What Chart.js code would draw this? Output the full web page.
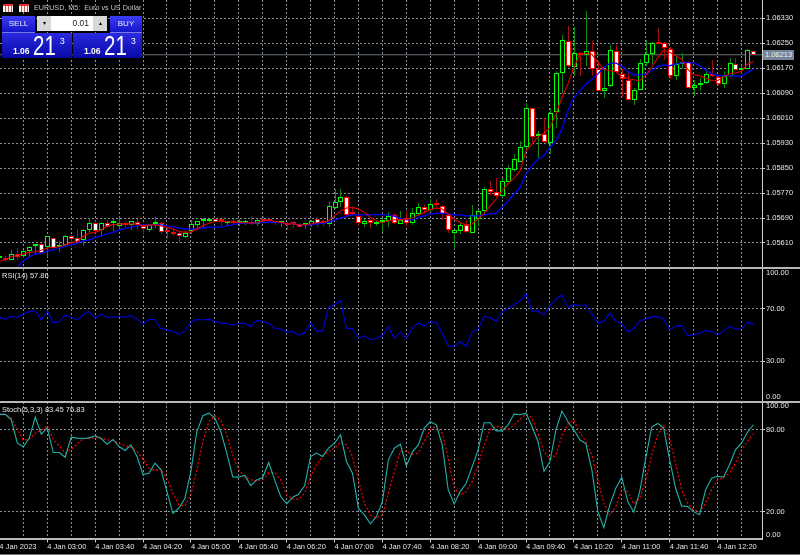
<!DOCTYPE html>
<html lang="en">
<head>
    <meta charset="UTF-8">
    <title>EURUSD, M5</title>
    <script src="https://cdn.jsdelivr.net/npm/chart.js"></script>
    <style>
        html, body { margin: 0; padding: 0; width: 800px; height: 555px; overflow: hidden; background: #000; font-family: "Liberation Sans", sans-serif; }
        canvas { position: absolute; left: 0; }
        .rule { position: absolute; left: 0; background: #b8b8b8; }
        .label { position: absolute; color: #e4e4e4; font-size: 7.5px; line-height: 9px; white-space: nowrap; }
        .btn { position: absolute; color: #e8e8ff; background: linear-gradient(#3c3cf0, #1414c8); font-size: 8px; text-align: center; line-height: 15px; border-bottom: 1px solid #7878e0; box-sizing: border-box; }
        .quote { position: absolute; top: 33px; height: 25px; color: #fff; background: linear-gradient(#2a2ae0, #0808a8); }
        .quote b { position: absolute; left: 11px; top: 14px; font-size: 8.5px; line-height: 9px; }
        .quote span { position: absolute; left: 31px; top: 0; font-size: 27px; line-height: 26px; transform: scaleX(0.76); transform-origin: left; }
        .quote i { position: absolute; left: 58px; top: 4px; font-size: 8.5px; line-height: 9px; font-style: normal; }
        .spin { position: absolute; top: 16px; height: 15px; width: 14px; background: #d8d8d8; color: #000; font-size: 6px; line-height: 15px; text-align: center; }
        .icon { position: absolute; top: 4px; width: 10px; height: 6px; background: repeating-linear-gradient(90deg, #fff 0 2px, #e05050 2px 3px); border-top: 2px solid #e03030; }
    </style>
</head>
<body>

    <canvas id="priceChart" width="800" height="267" style="top: 0"></canvas>
    <canvas id="rsiChart" width="800" height="132" style="top: 269px"></canvas>
    <canvas id="stochChart" width="800" height="153" style="top: 402px"></canvas>

    <div class="rule" style="top: 267px; width: 800px; height: 2px"></div>
    <div class="rule" style="top: 401px; width: 800px; height: 2px"></div>
    <div class="rule" style="top: 554px; width: 800px; height: 1px; background: #707070"></div>

    <!-- Trade panel and pane captions -->
    <div class="icon" style="left: 3px"></div>
    <div class="icon" style="left: 19px"></div>
    <div class="label" style="left: 34px; top: 3px; font-size: 7.2px; color: #c4c4c4">EURUSD, M5:&nbsp; Euro vs US Dollar</div>
    <div class="btn" style="left: 2px; top: 16px; width: 33px; height: 17px">SELL</div>
    <div class="spin" style="left: 37px">&#9662;</div>
    <div style="position: absolute; left: 51px; top: 16px; width: 42px; height: 15px; background: #fff; color: #222; font-size: 8.5px; line-height: 15px; text-align: right; padding-right: 4px; box-sizing: border-box">0.01</div>
    <div class="spin" style="left: 93px">&#9652;</div>
    <div class="btn" style="left: 110px; top: 16px; width: 32px; height: 17px">BUY</div>
    <div class="quote" style="left: 2px; width: 70px"><b>1.06</b><span>21</span><i>3</i></div>
    <div class="quote" style="left: 73px; width: 69px"><b>1.06</b><span>21</span><i>3</i></div>

    <div class="label" style="left: 2px; top: 271px">RSI(14) 57.86</div>
    <div class="label" style="left: 2px; top: 405px">Stoch(5,3,3) 83.45 76.83</div>
    <div class="label" style="left: 763px; top: 50px; width: 31px; height: 10px; line-height: 10px; text-align: center; background: #74849a; color: #f0f0f0">1.06213</div>

    <script>
        // OHLC of the M5 candles, left to right
        const opens = [1.05561,1.05561,1.05556,1.05575,1.05569,1.05583,1.05599,1.05607,1.05598,1.05626,
            1.05596,1.05604,1.05633,1.05625,1.05619,1.05651,1.05673,1.05652,1.05674,1.05673,
            1.05665,1.05675,1.05668,1.05676,1.05665,1.05652,1.05671,1.05673,1.05647,1.05645,
            1.05643,1.05628,1.05647,1.05668,1.05679,1.05679,1.05687,1.05681,1.05673,1.05679,
            1.05675,1.05674,1.05678,1.05671,1.05687,1.05688,1.05676,1.05674,1.05675,1.05673,
            1.05671,1.05668,1.05668,1.05687,1.05675,1.05671,1.05721,1.05741,1.05758,1.05705,
            1.05697,1.05671,1.05684,1.05672,1.05678,1.05681,1.05700,1.05671,1.05690,1.05673,
            1.05703,1.05726,1.05716,1.05738,1.05729,1.05700,1.05643,1.05649,1.05668,1.05642,
            1.05687,1.05711,1.05783,1.05772,1.05760,1.05807,1.05845,1.05871,1.05916,1.06043,
            1.05954,1.05959,1.05932,1.06031,1.06156,1.06258,1.06175,1.06219,1.06213,1.06224,
            1.06167,1.06098,1.06113,1.06226,1.06151,1.06133,1.06068,1.06101,1.06188,1.06215,
            1.06253,1.06251,1.06233,1.06146,1.06185,1.06191,1.06108,1.06115,1.06124,1.06151,
            1.06143,1.06119,1.06146,1.06184,1.06164,1.06169,1.06226];
        const highs = [1.05566,1.05567,1.05587,1.05594,1.05588,1.05601,1.05607,1.05609,1.05633,1.05628,
            1.05615,1.05636,1.05636,1.05655,1.05655,1.05690,1.05681,1.05678,1.05684,1.05690,
            1.05694,1.05681,1.05681,1.05687,1.05671,1.05671,1.05692,1.05676,1.05660,1.05658,
            1.05645,1.05646,1.05684,1.05681,1.05690,1.05687,1.05689,1.05684,1.05678,1.05686,
            1.05686,1.05684,1.05697,1.05688,1.05697,1.05691,1.05679,1.05677,1.05676,1.05679,
            1.05675,1.05673,1.05684,1.05689,1.05684,1.05740,1.05783,1.05782,1.05759,1.05722,
            1.05705,1.05687,1.05687,1.05681,1.05689,1.05708,1.05705,1.05711,1.05711,1.05722,
            1.05737,1.05732,1.05751,1.05751,1.05733,1.05703,1.05652,1.05676,1.05684,1.05733,
            1.05716,1.05790,1.05809,1.05818,1.05818,1.05861,1.05895,1.05938,1.06057,1.06044,
            1.05970,1.06010,1.06042,1.06162,1.06277,1.06306,1.06301,1.06221,1.06354,1.06258,
            1.06194,1.06167,1.06245,1.06245,1.06167,1.06162,1.06106,1.06199,1.06260,1.06253,
            1.06299,1.06253,1.06237,1.06210,1.06219,1.06194,1.06132,1.06140,1.06167,1.06196,
            1.06149,1.06160,1.06204,1.06204,1.06178,1.06230,1.06227];
        const lows = [1.05558,1.05550,1.05555,1.05555,1.05563,1.05563,1.05572,1.05575,1.05564,1.05591,
            1.05582,1.05596,1.05596,1.05609,1.05601,1.05644,1.05643,1.05628,1.05660,1.05649,
            1.05652,1.05660,1.05652,1.05655,1.05636,1.05644,1.05658,1.05639,1.05623,1.05633,
            1.05609,1.05626,1.05639,1.05655,1.05662,1.05678,1.05676,1.05665,1.05665,1.05668,
            1.05665,1.05668,1.05668,1.05665,1.05673,1.05677,1.05668,1.05662,1.05652,1.05658,
            1.05660,1.05656,1.05660,1.05660,1.05663,1.05660,1.05719,1.05726,1.05690,1.05700,
            1.05665,1.05660,1.05658,1.05665,1.05644,1.05662,1.05671,1.05671,1.05660,1.05668,
            1.05697,1.05703,1.05708,1.05724,1.05684,1.05642,1.05591,1.05640,1.05642,1.05642,
            1.05662,1.05703,1.05765,1.05756,1.05758,1.05806,1.05841,1.05871,1.05911,1.05929,
            1.05879,1.05932,1.05895,1.05980,1.06092,1.06175,1.06146,1.06146,1.06178,1.06146,
            1.06096,1.06076,1.06111,1.06156,1.06079,1.06068,1.06053,1.06100,1.06178,1.06183,
            1.06249,1.06196,1.06135,1.06132,1.06167,1.06106,1.06082,1.06096,1.06121,1.06143,
            1.06117,1.06108,1.06143,1.06162,1.06156,1.06167,1.06213];
        const closes = [1.05563,1.05555,1.05575,1.05566,1.05585,1.05598,1.05605,1.05577,1.05632,1.05594,
            1.05600,1.05632,1.05624,1.05614,1.05651,1.05673,1.05647,1.05675,1.05662,1.05675,
            1.05675,1.05668,1.05679,1.05668,1.05655,1.05668,1.05676,1.05644,1.05645,1.05639,
            1.05631,1.05643,1.05671,1.05680,1.05681,1.05685,1.05678,1.05679,1.05676,1.05673,
            1.05677,1.05676,1.05670,1.05684,1.05682,1.05679,1.05673,1.05676,1.05668,1.05671,
            1.05662,1.05671,1.05681,1.05671,1.05673,1.05728,1.05740,1.05758,1.05700,1.05703,
            1.05674,1.05681,1.05673,1.05674,1.05680,1.05697,1.05674,1.05684,1.05673,1.05706,
            1.05726,1.05716,1.05735,1.05732,1.05703,1.05652,1.05651,1.05668,1.05644,1.05700,
            1.05711,1.05783,1.05772,1.05760,1.05809,1.05849,1.05879,1.05919,1.06043,1.05951,
            1.05959,1.05934,1.06028,1.06156,1.06260,1.06178,1.06219,1.06212,1.06226,1.06167,
            1.06098,1.06108,1.06228,1.06159,1.06135,1.06068,1.06100,1.06188,1.06215,1.06251,
            1.06249,1.06236,1.06146,1.06183,1.06190,1.06108,1.06116,1.06124,1.06151,1.06144,
            1.06119,1.06146,1.06187,1.06164,1.06170,1.06228,1.06213];

        // Moving averages on the price pane (slow one enters from below the pane)
        const fastMA = [1.05551,1.05557,1.05566,1.05570,1.05575,1.05580,1.05582,1.05587,1.05594,1.05596,
            1.05598,1.05604,1.05612,1.05615,1.05632,1.05641,1.05644,1.05652,1.05665,1.05668,
            1.05671,1.05673,1.05671,1.05671,1.05665,1.05668,1.05668,1.05665,1.05660,1.05655,
            1.05647,1.05645,1.05645,1.05655,1.05665,1.05673,1.05679,1.05679,1.05679,1.05676,
            1.05676,1.05675,1.05674,1.05675,1.05681,1.05684,1.05679,1.05676,1.05673,1.05671,
            1.05668,1.05668,1.05671,1.05675,1.05676,1.05681,1.05697,1.05713,1.05722,1.05724,
            1.05719,1.05708,1.05692,1.05681,1.05675,1.05681,1.05684,1.05684,1.05686,1.05690,
            1.05700,1.05708,1.05717,1.05722,1.05719,1.05703,1.05687,1.05676,1.05668,1.05671,
            1.05687,1.05705,1.05729,1.05751,1.05777,1.05801,1.05818,1.05841,1.05906,1.05927,
            1.05950,1.05961,1.05980,1.06023,1.06076,1.06119,1.06173,1.06215,1.06217,1.06215,
            1.06189,1.06167,1.06162,1.06159,1.06143,1.06137,1.06133,1.06130,1.06146,1.06173,
            1.06204,1.06229,1.06221,1.06210,1.06199,1.06167,1.06149,1.06146,1.06139,1.06130,
            1.06130,1.06143,1.06153,1.06155,1.06160,1.06183,1.06191];
        const slowMA = [null,null,null,1.05532,1.05553,1.05566,1.05575,1.05577,1.05585,1.05587,
            1.05594,1.05600,1.05604,1.05609,1.05617,1.05620,1.05628,1.05633,1.05639,1.05644,
            1.05652,1.05658,1.05660,1.05665,1.05668,1.05668,1.05668,1.05668,1.05665,1.05662,
            1.05658,1.05655,1.05655,1.05655,1.05658,1.05660,1.05661,1.05661,1.05665,1.05668,
            1.05673,1.05674,1.05674,1.05674,1.05676,1.05677,1.05676,1.05675,1.05673,1.05671,
            1.05668,1.05668,1.05668,1.05671,1.05673,1.05676,1.05684,1.05690,1.05696,1.05700,
            1.05700,1.05700,1.05700,1.05701,1.05701,1.05700,1.05695,1.05689,1.05684,1.05684,
            1.05692,1.05697,1.05703,1.05705,1.05706,1.05703,1.05700,1.05700,1.05697,1.05697,
            1.05697,1.05700,1.05703,1.05705,1.05724,1.05745,1.05767,1.05788,1.05831,1.05858,
            1.05879,1.05890,1.05916,1.05938,1.05975,1.06034,1.06076,1.06098,1.06119,1.06135,
            1.06151,1.06173,1.06185,1.06187,1.06176,1.06160,1.06149,1.06149,1.06151,1.06162,
            1.06176,1.06181,1.06178,1.06183,1.06187,1.06189,1.06187,1.06178,1.06165,1.06153,
            1.06146,1.06146,1.06146,1.06145,1.06145,1.06156,1.06167];

        const rsiValues = [63.5,62,64,63.5,65.7,67.7,68.5,61.2,68.2,59.2,
            60,65,63.2,61.2,65.2,68,62.7,65.7,63.5,63.5,
            64,63.5,64.7,62,58.4,61.7,61.7,54.7,53.9,52.9,
            50.4,53.1,59.7,61.7,61.4,62,60,59.2,58.9,57.4,
            58.9,58.7,56.4,60.9,60.2,58.9,54.9,54.7,52.4,52.6,
            49.9,51.6,59.2,52.9,52.9,70.8,73.3,76,54.9,54.9,
            47.6,49.4,46.6,47.6,49.6,56.2,47.4,52.1,47.6,55.4,
            58.9,56.9,60.4,59.4,51.4,41.8,41.1,45.1,41.3,52.6,
            54.4,64.2,63,60.4,67.2,70.5,72.8,76,81,68,
            68.2,65.2,72.5,77.3,80.3,70.8,72.8,72.5,72.5,65.7,
            59.2,60.2,66.5,60.7,58.4,52.4,54.9,60.7,62.2,63.7,
            63.7,62.2,53.9,56.7,57.2,49.6,50.1,51.4,53.4,52.6,
            50.1,52.9,56.7,54.4,54.9,59.7,57.86];

        const stochMain = [91,91,87,70,67.4,73.7,89,76.6,81.2,63.2,
            63.2,59.8,74.4,73.7,73.4,73.9,75.4,73.4,69.3,72.7,
            67.6,64.7,68.8,60.3,47.2,48.2,55.5,50.6,34.8,19,
            22.7,30,49.4,78.5,90,91.9,88.3,78.5,62.8,45.5,
            45.3,46.7,39.2,43.3,45,56,43.3,31.2,25.8,30.7,
            32.9,39,60.3,62.8,60.3,66.4,70,76.1,56.7,48.2,
            22.7,17.8,11.3,16.6,27.5,57.9,66.4,69.3,53.5,63.5,
            68.8,81,85.6,83.4,68.8,36,25.8,34.8,40.9,53,
            65.2,84.9,84.9,79,79,83.4,91.2,90.7,91.9,82.2,
            71.3,49.6,56.7,79.8,93.4,85.8,79.8,72.5,69.6,50.6,
            20.2,8.6,25.1,37.2,45.3,27.5,19.8,34.8,59.1,81.7,
            84.4,81,57.9,37.2,24.4,23.9,20.2,18,36,44.5,
            46,45.3,54.3,65.2,70,78,83.45];
        const stochSignal = [91,91,88.3,80.2,72,73,77.3,79.3,82.7,73,
            68.1,62.8,65.7,69.3,73.4,73.4,74.2,73.7,72.5,72,
            69.8,68.1,66.9,64,58.4,51.8,50.1,51.3,44.5,33.6,
            25.1,24.4,32.4,50.6,71.3,85.8,90,86.6,76.1,61.5,
            50.6,45.8,43.3,42.8,43.3,48.2,48.7,43.3,32.4,29.5,
            29.2,33.6,45.8,54.3,60.3,64,66.4,70.8,68.8,60.3,
            43.3,26.3,17.8,15.4,17.8,33.6,49.4,64,64,62,
            62.8,71.3,79.8,82.7,77.3,59.1,37.2,32.4,34.8,42.1,
            54.3,68.8,79.8,82.7,81,79.8,83.4,87.5,91.2,88.3,
            77.3,64,58.4,61.5,75.4,84.1,86.6,77.3,71.3,61.5,
            43.3,26.3,17.8,23.9,36.8,34.8,25.8,30,43.3,61.5,
            76.1,82.7,73,55.5,36,26.3,21.5,20.2,26.3,36,
            43.3,45,48.2,55.5,65.2,71.3,76.83];

        const bidPrice = 1.06213;
        const priceTicks = [1.06330,1.06250,1.06170,1.06090,1.06010,1.05930,1.05850,1.05770,1.05690,1.05610];
        const rsiTicks = [70,30];
        const stochTicks = [80,20];
        const timeLabels = ['4 Jan 2023','4 Jan 03:00','4 Jan 03:40','4 Jan 04:20','4 Jan 05:00','4 Jan 05:40',
            '4 Jan 06:20','4 Jan 07:00','4 Jan 07:40','4 Jan 08:20','4 Jan 09:00','4 Jan 09:40','4 Jan 10:20',
            '4 Jan 11:00','4 Jan 11:40','4 Jan 12:20'];

        const GRID = '#8a9198';
        const TEXT = '#e4e4e4';
        const FONT = { family: 'Liberation Sans', size: 7.5 };
        const BARS_PER_GRID = 4;
        const BARS_PER_LABEL = 8;

        const points = values => values.map((y, x) => ({ x, y }));
        const isBull = i => closes[i] >= opens[i];

        // Shared x scale: grid every 20 min, time label every 40 min
        function timeScale(showLabels) {
            return {
                type: 'linear',
                offset: false,
                min: 0.105,
                max: 127.43,
                afterBuildTicks: scale => {
                    scale.ticks = [];
                    for (let k = 0; k < opens.length; k += BARS_PER_GRID) scale.ticks.push({ value: k });
                },
                afterFit: scale => {
                    scale.height = showLabels ? 15.6 : 0;
                    scale.paddingLeft = 0;
                    scale.paddingRight = 0;
                },
                grid: {
                    offset: false,
                    color: GRID,
                    drawTicks: showLabels,
                    tickLength: 3,
                    tickColor: ctx => ctx.tick && ctx.tick.value % BARS_PER_LABEL === 0 ? '#d0d0d0' : 'transparent'
                },
                border: { dash: [2, 2], display: showLabels, color: '#b8b8b8', width: 2 },
                ticks: {
                    display: showLabels,
                    autoSkip: false,
                    align: 'start',
                    minRotation: 0,
                    maxRotation: 0,
                    padding: 0,
                    color: TEXT,
                    font: FONT,
                    callback: v => v % BARS_PER_LABEL === 0 ? timeLabels[v / BARS_PER_LABEL] : ''
                }
            };
        }

        function valueScale(min, max, tickValues, decimals) {
            return {
                position: 'right',
                min,
                max,
                afterBuildTicks: scale => { scale.ticks = tickValues.map(value => ({ value })); },
                afterFit: scale => {
                    scale.width = 38;
                    scale.paddingTop = 0;
                    scale.paddingBottom = 0;
                },
                grid: { color: GRID, tickLength: 3, tickColor: '#d0d0d0' },
                border: { dash: [2, 2], color: '#d0d0d0', width: 1 },
                ticks: {
                    autoSkip: false,
                    padding: 1,
                    color: TEXT,
                    font: FONT,
                    callback: v => v.toFixed(decimals)
                }
            };
        }

        // 100.00 and 0.00 sit just inside the pane, not centred on its edge
        const boundLabels = {
            id: 'boundLabels',
            afterDraw(chart) {
                const y = chart.scales.y;
                const ctx = chart.ctx;
                ctx.save();
                ctx.fillStyle = TEXT;
                ctx.font = '7.5px "Liberation Sans"';
                ctx.textBaseline = 'middle';
                ctx.fillText(y.max.toFixed(2), y.left + 4, y.top + 4);
                ctx.fillText(y.min.toFixed(2), y.left + 4, y.bottom - 4.5);
                ctx.restore();
            }
        };

        // Snap candles to whole pixels so their 1px outlines stay sharp
        const crispCandles = {
            id: 'crispCandles',
            beforeDatasetsDraw(chart) {
                chart.getSortedVisibleDatasetMetas().filter(m => m.type === 'bar').forEach(meta => {
                    meta.data.forEach(bar => {
                        bar.x = Math.round(bar.x) + 0.5;
                        bar.y = Math.round(bar.y);
                        bar.base = Math.round(bar.base);
                    });
                });
            }
        };

        function makePane(id, datasets, xScale, yScale, plugins) {
            return new Chart(document.getElementById(id), {
                type: 'line',
                data: { datasets },
                plugins: plugins || [],
                options: {
                    responsive: false,
                    animation: false,
                    layout: { autoPadding: false, padding: 0 },
                    plugins: { legend: { display: false }, tooltip: { enabled: false } },
                    elements: { point: { radius: 0 }, line: { tension: 0 } },
                    scales: { x: xScale, y: yScale }
                }
            });
        }

        // Candles are two floating bars: the wick behind, the body on top
        const wickData = lows.map((low, x) => ({ x, y: [low, highs[x]] }));
        const bodyData = opens.map((open, x) => ({ x, y: [open, closes[x]] }));

        makePane('priceChart', [
            { type: 'line', data: [{ x: 0, y: bidPrice }, { x: 128, y: bidPrice }], borderColor: '#66707a', borderWidth: 1, order: 4 },
            { type: 'bar', data: wickData, grouped: false, barThickness: 1, inflateAmount: 0,
              backgroundColor: ctx => isBull(ctx.dataIndex) ? '#0f8a0f' : '#a00f0f', order: 3 },
            { type: 'bar', data: bodyData, grouped: false, barThickness: 5, minBarLength: 2, inflateAmount: 0,
              borderWidth: 1, borderSkipped: false,
              borderColor: ctx => isBull(ctx.dataIndex) ? '#00ff00' : '#ff0000',
              backgroundColor: ctx => isBull(ctx.dataIndex) ? '#000000' : '#ffffff', order: 2 },
            { type: 'line', data: points(slowMA), borderColor: '#0000ff', borderWidth: 1.3, order: 1 },
            { type: 'line', data: points(fastMA), borderColor: '#e00000', borderWidth: 1.1, order: 0 }
        ], timeScale(false), valueScale(1.055331, 1.063886, priceTicks, 5), [crispCandles]);

        makePane('rsiChart', [
            { data: points(rsiValues), borderColor: '#0000e6', borderWidth: 1.1 }
        ], timeScale(false), valueScale(0, 100, rsiTicks, 2), [boundLabels]);

        makePane('stochChart', [
            { data: points(stochSignal), borderColor: '#ff0000', borderWidth: 1.2, borderDash: [2, 2], order: 1 },
            { data: points(stochMain), borderColor: '#20b2aa', borderWidth: 1.1, order: 0 }
        ], timeScale(true), valueScale(0, 100, stochTicks, 2), [boundLabels]);
    </script>

</body>
</html>
